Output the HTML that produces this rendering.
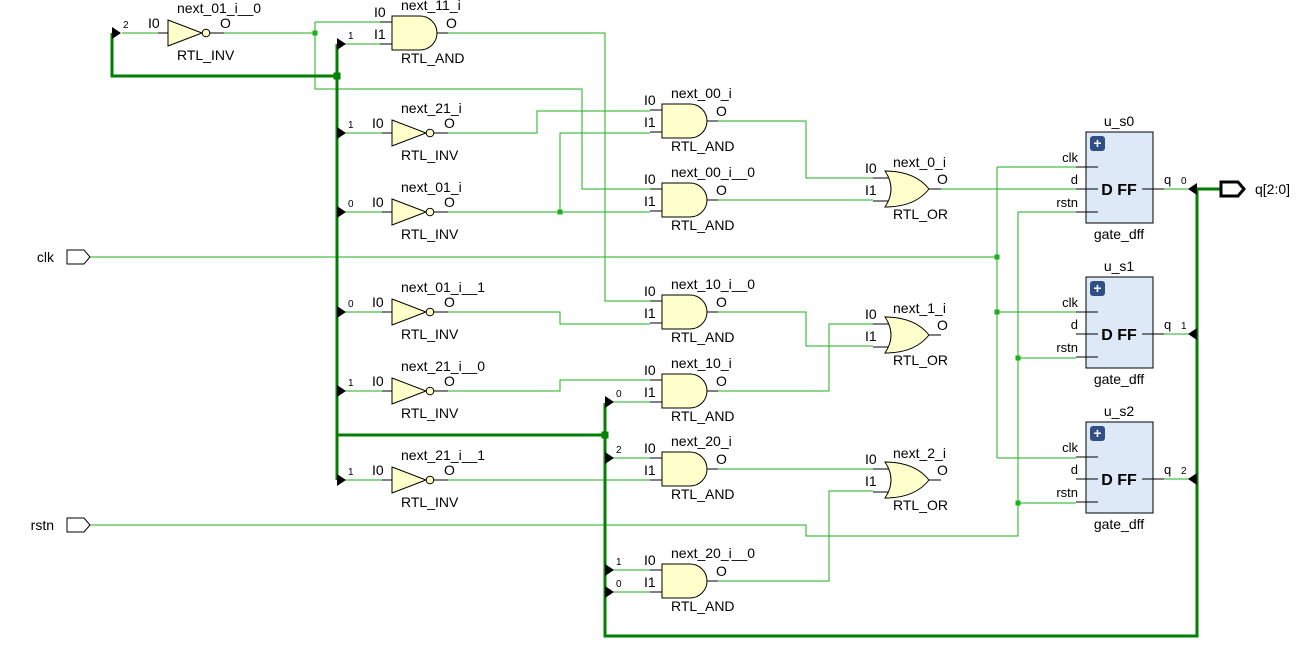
<!DOCTYPE html>
<html><head><meta charset="utf-8"><style>
html,body{margin:0;padding:0;background:#fff;width:1299px;height:645px;overflow:hidden}
svg text{font-family:"Liberation Sans",sans-serif;fill:#000}
</style></head><body>
<svg id="s" width="1299" height="645" xmlns="http://www.w3.org/2000/svg"></svg>
<script>
var s=document.getElementById('s'),o='';
var G='#1cb01c',B='#008000';
function L(pts,c,w){o+='<polyline points="'+pts+'" fill="none" stroke="'+(c||G)+'" stroke-width="'+(w||1)+'"/>';}
function T(x,y,t,sz,a){o+='<text x="'+x+'" y="'+y+'" font-size="'+(sz||14)+'"'+(a?' text-anchor="'+a+'"':'')+'>'+t+'</text>';}
function dot(x,y,r){r=r||2.5;o+='<rect x="'+(x-r)+'" y="'+(y-r)+'" width="'+(2*r)+'" height="'+(2*r)+'" fill="'+(r>2.6?B:G)+'"/>';}
function tap(x,y,l){o+='<polygon points="'+x+','+(y-6)+' '+(x+9)+','+y+' '+x+','+(y+6)+'" fill="#000"/>';T(x+11,y-5,l,10);}
function inv(x,cy,n){L((x-10)+','+cy+' '+x+','+cy,'#000');
 o+='<polygon points="'+x+','+(cy-13)+' '+(x+34)+','+cy+' '+x+','+(cy+13)+'" fill="#ffffcc" stroke="#000"/>';
 o+='<circle cx="'+(x+38)+'" cy="'+cy+'" r="3.8" fill="#ffffcc" stroke="#000"/>';
 L((x+42)+','+cy+' '+(x+56)+','+cy,'#000');
 T(x+9,cy-20,n);T(x-20,cy-5,'I0');T(x+52,cy-5,'O');T(x+9,cy+27,'RTL_INV');}
function and(x,cy,n){var t=cy-17,b=cy+17;
 L((x-12)+','+(cy-11)+' '+x+','+(cy-11),'#000');L((x-12)+','+(cy+11)+' '+x+','+(cy+11),'#000');
 o+='<path d="M'+x+','+t+' H'+(x+28)+' A17,17 0 0 1 '+(x+28)+','+b+' H'+x+' Z" fill="#ffffcc" stroke="#000"/>';
 L((x+45)+','+cy+' '+(x+56)+','+cy,'#000');
 T(x+9,cy-23,n);T(x-18,cy-16,'I0');T(x-18,cy+6,'I1');T(x+54,cy-5,'O');T(x+9,cy+30,'RTL_AND');}
function or(x,cy,n){var t=cy-18,b=cy+18;
 L((x-12)+','+(cy-11)+' '+(x+6)+','+(cy-11),'#000');L((x-12)+','+(cy+12)+' '+(x+6)+','+(cy+12),'#000');
 o+='<path d="M'+x+','+t+' Q'+(x+30)+','+t+' '+(x+44)+','+cy+' Q'+(x+30)+','+b+' '+x+','+b+' Q'+(x+12)+','+cy+' '+x+','+t+' Z" fill="#ffffcc" stroke="#000"/>';
 L((x+44)+','+cy+' '+(x+56)+','+cy,'#000');
 T(x+8,cy-22,n);T(x-20,cy-16,'I0');T(x-20,cy+6,'I1');T(x+52,cy-5,'O');T(x+8,cy+30,'RTL_OR');}
function dff(top,n,q){var x=1086;
 o+='<rect x="'+x+'" y="'+top+'" width="67" height="91" fill="#dde9f7" stroke="#000"/>';
 o+='<rect x="'+(x+4)+'" y="'+(top+4)+'" width="15" height="15" rx="3" fill="#2f4f86"/>';
 o+='<text x="'+(x+11.5)+'" y="'+(top+16)+'" font-size="14" font-weight="bold" text-anchor="middle" style="fill:#fff">+</text>';
 [35,57,80].forEach(function(d){L('1076,'+(top+d)+' 1098,'+(top+d),'#000');});
 T(1078,top+30,'clk',13,'end');T(1078,top+52,'d',13,'end');T(1078,top+75,'rstn',13,'end');
 o+='<text x="'+(x+33)+'" y="'+(top+63)+'" font-size="16" font-weight="bold" text-anchor="middle">D FF</text>';
 L('1142,'+(top+57)+' 1164,'+(top+57),'#000');L('1164,'+(top+57)+' 1190,'+(top+57));
 T(1164,top+52,'q',13);T(1181,top+52,q,10);
 o+='<polygon points="1197,'+(top+51)+' 1188,'+(top+57)+' 1197,'+(top+63)+'" fill="#000"/>';
 T(1119,top-6,n,14,'middle');T(1119,top+107,'gate_dff',14,'middle');}
L('223,33 315,33');L('315,22 315,89 582,89 582,189 650,189');L('315,22 382,22');dot(315,33,2.5);
L('448,33 605,33 605,301 650,301');
L('448,133 537,133 537,111 650,111');
L('448,212 650,212');L('560,212 560,133 650,133');dot(560,212,2.5);
L('716,121 806,121 806,178 873,178');L('716,200 873,200');L('940,189 1076,189');
L('90,257 997,257');L('997,167 997,458');L('997,167 1076,167');L('997,312 1076,312');L('997,458 1076,458');dot(997,257,2.5);dot(997,312,2.5);
L('90,525 806,525 806,536 1018,536 1018,212 1076,212');L('1018,358 1076,358');L('1018,503 1076,503');dot(1018,358,2.5);dot(1018,503,2.5);
L('448,312 560,312 560,324 650,324');L('716,312 806,312 806,346 873,346');
L('448,391 560,391 560,380 650,380');L('716,391 829,391 829,324 873,324');
L('448,480 650,480');L('716,469 873,469');L('716,581 829,581 829,491 873,491');
L('345,44 382,44');L('345,133 382,133');L('345,212 382,212');L('345,312 382,312');L('345,391 382,391');L('345,480 382,480');
L('122,33 158,33');
L('613,402 650,402');L('613,458 650,458');L('613,570 650,570');L('613,592 650,592');
L('112,33 112,76 337,76',B,3);L('337,44 337,480',B,3);L('337,435 605,435',B,3);
L('605,403 605,636 1197,636 1197,189 1220,189',B,3);dot(337,76,3.5);dot(605,435,3.5);
tap(112,33,'2');tap(337,44,'1');tap(337,133,'1');tap(337,212,'0');tap(337,312,'0');tap(337,391,'1');tap(337,480,'1');
tap(605,402,'0');tap(605,458,'2');tap(605,570,'1');tap(605,592,'0');
inv(168,33,'next_01_i__0');inv(392,133,'next_21_i');inv(392,212,'next_01_i');inv(392,312,'next_01_i__1');inv(392,391,'next_21_i__0');inv(392,480,'next_21_i__1');
and(392,33,'next_11_i');and(662,121,'next_00_i');and(662,200,'next_00_i__0');and(662,312,'next_10_i__0');and(662,391,'next_10_i');and(662,469,'next_20_i');and(662,581,'next_20_i__0');
or(885,189,'next_0_i');or(885,335,'next_1_i');or(885,480,'next_2_i');
dff(132,'u_s0','0');dff(277,'u_s1','1');dff(422,'u_s2','2');
o+='<polygon points="67,250 84,250 90,257 84,264 67,264" fill="#fff" stroke="#000"/>';T(54,262,'clk',14,'end');
o+='<polygon points="67,518 84,518 90,525 84,532 67,532" fill="#fff" stroke="#000"/>';T(54,530,'rstn',14,'end');
o+='<polygon points="1221,182 1238,182 1244,189 1238,196 1221,196" fill="#fff" stroke="#000" stroke-width="3"/>';T(1255,194,'q[2:0]',14);
s.innerHTML=o;
</script>
</body></html>
